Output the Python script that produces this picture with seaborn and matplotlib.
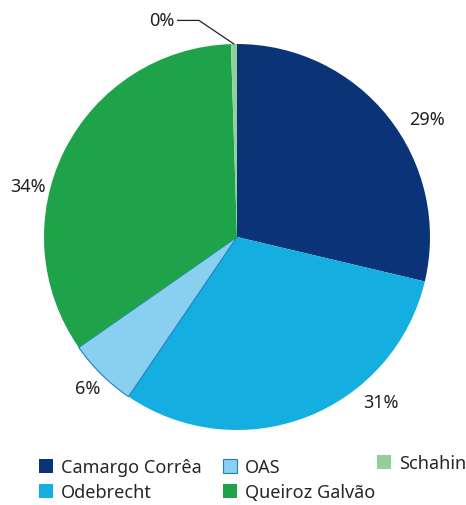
import numpy as np
import matplotlib
matplotlib.use("Agg")
import matplotlib.pyplot as plt
import seaborn as sns

# Data
companies = ["Camargo Corrêa", "Odebrecht", "OAS", "Queiroz Galvão", "Schahin"]
shares = [28.7, 30.8, 5.8, 34.2, 0.5]
pct_labels = ["29%", "31%", "6%", "34%", "0%"]
colors = ["#0b3478", "#14afe0", "#88cff0", "#1fa34a", "#94cf9a"]

sns.set_theme(style="white")
plt.rcParams["font.family"] = ["Noto Sans", "DejaVu Sans"]

fig = plt.figure(figsize=(4.66, 5.06), dpi=100)
W, H = 466, 506
cx, cy, r = 237, 238, 193
ax = fig.add_axes([(cx - r) / W, (H - cy - r) / H, 2 * r / W, 2 * r / H])

wedges, _ = ax.pie(shares, colors=colors, startangle=90, counterclock=False,
                   radius=1, wedgeprops=dict(linewidth=0))
# OAS slice has a thin darker outline
wedges[2].set_edgecolor("#1f7fc4")
wedges[2].set_linewidth(0.8)
ax.set_aspect("equal")
ax.set_xlim(-1, 1)
ax.set_ylim(-1, 1)
ax.axis("off")

# Percentage labels (angle nudges / radii are layout tweaks)
nudge = [-6.5, 20, 0, 13]
dist = [1.16, 1.135, 1.10, 1.115]
for w, lab, dn, rd in zip(wedges[:4], pct_labels[:4], nudge, dist):
    ang = np.deg2rad((w.theta1 + w.theta2) / 2 + dn)
    ax.text(rd * np.cos(ang), rd * np.sin(ang), lab, ha="center", va="center",
            fontsize=13, color="#222222")

# Schahin label with leader line
w = wedges[4]
ang = np.deg2rad((w.theta1 + w.theta2) / 2)
ax.annotate(pct_labels[4], xy=(np.cos(ang), np.sin(ang)),
            xytext=(-43, 17), textcoords="offset points",
            ha="right", va="center", fontsize=13, color="#222222",
            arrowprops=dict(arrowstyle="-", color="#222222", lw=0.9,
                            shrinkA=0, shrinkB=0,
                            connectionstyle="angle,angleA=0,angleB=146"))

leg_kw = dict(frameon=False, fontsize=13, handlelength=0.8, handleheight=0.8,
              handletextpad=0.45, labelspacing=0.4, borderaxespad=0, borderpad=0)
# first four entries in two columns, Schahin sits on its own to the right
leg1 = fig.legend(wedges[:4], companies[:4], loc="upper left",
                  bbox_to_anchor=(0.083, 0.093), ncol=2, columnspacing=1.15, **leg_kw)
fig.legend(wedges[4:], companies[4:], loc="upper left",
           bbox_to_anchor=(0.808, 0.101), **leg_kw)

fig.savefig("out.png", dpi=100)
